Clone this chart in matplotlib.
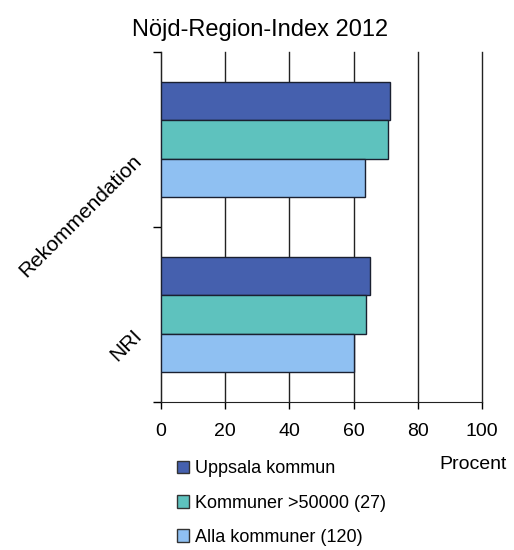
import numpy as np
import matplotlib.pyplot as plt
from matplotlib.patches import Patch
from matplotlib.transforms import ScaledTranslation

plt.rcParams['font.family'] = ['Liberation Sans', 'DejaVu Sans']

# Data
categories = ['NRI', 'Rekommendation']
series = ['Uppsala kommun', 'Kommuner >50000 (27)', 'Alla kommuner (120)']
uppsala = [65, 71.5]
kommuner50k = [64, 70.7]
alla = [60, 63.6]
colors = ['#4560AE', '#5EC2BE', '#8FC0F2']

fig = plt.figure(figsize=(5.14, 5.5), dpi=100)
ax = fig.add_axes([0.3132, 0.269, 0.6245, 0.6364])

y = np.arange(len(categories))
h = 0.22
values = [uppsala, kommuner50k, alla]
offsets = [h, 0, -h]
for vals, off, col in zip(values, offsets, colors):
    ax.barh(y + off, vals, height=h, color=col, edgecolor='#1a2030', linewidth=1.0, zorder=3)

ax.set_xlim(0, 100)
ax.set_ylim(-0.5, 1.5)
ax.set_xticks([0, 20, 40, 60, 80, 100])
ax.tick_params(axis='x', labelsize=14, length=5, width=1, direction='out', pad=10)
ax.xaxis.grid(True, color='#222222', linewidth=1)
for gl in ax.get_xgridlines():
    gl.set_clip_on(False)
ax.set_axisbelow(True)

# category ticks at the boundaries, labels at the centers
ax.set_yticks([-0.5, 0.5, 1.5])
ax.set_yticklabels([])
ax.set_yticks(y, minor=True)
ax.set_yticklabels(categories, minor=True, rotation=45, ha='right', va='center',
                   rotation_mode='anchor', fontsize=15)
ax.tick_params(axis='y', which='major', length=6, width=1)
ax.tick_params(axis='y', which='minor', length=0, pad=16)
shift = ScaledTranslation(0, -0.18, fig.dpi_scale_trans)
for lbl in ax.get_yticklabels(minor=True):
    lbl.set_transform(lbl.get_transform() + shift)

for s in ['top', 'right']:
    ax.spines[s].set_visible(False)
ax.spines['left'].set_color('#222222')
ax.spines['bottom'].set_color('#222222')

fig.suptitle('Nöjd-Region-Index 2012', x=0.505, y=0.965, fontsize=17)
fig.text(0.855, 0.148, 'Procent', fontsize=14)

handles = [Patch(facecolor=c, edgecolor='#333333') for c in colors]
fig.legend(handles, series, loc='upper left', bbox_to_anchor=(0.33, 0.176),
           frameon=False, fontsize=13, handlelength=0.7, handleheight=0.7,
           handletextpad=0.3, labelspacing=0.95, borderaxespad=0)

fig.savefig('out.png', dpi=100)
